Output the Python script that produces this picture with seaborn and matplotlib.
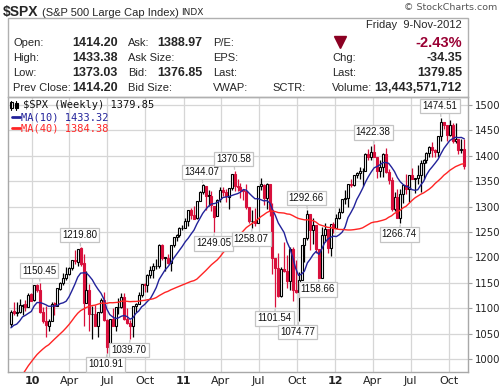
import numpy as np
import pandas as pd
import matplotlib
matplotlib.use("Agg")
import matplotlib.pyplot as plt
import matplotlib.dates as mdates
from matplotlib.patches import Rectangle
from matplotlib.lines import Line2D
import seaborn as sns

# ---------------- data (weekly $SPX, week ending Fridays) ----------------
first_week = "2009-11-13"
opens = [1069, 1094, 1091, 1092, 1105, 1108, 1102, 1127,
         1116, 1145, 1136, 1092, 1074, 1065, 1075, 1110, 1105, 1138, 1150, 1160,
         1167, 1179, 1194, 1191, 1218, 1188, 1111, 1136, 1088, 1089, 1065, 1092,
         1117, 1076, 1023, 1078, 1065, 1102, 1102, 1122, 1079, 1071, 1065, 1105,
         1109, 1125, 1148, 1146, 1165, 1176, 1183, 1183, 1225, 1199, 1199, 1189,
         1225, 1240, 1244, 1257,
         1258, 1272, 1293, 1283, 1277, 1311, 1329, 1340, 1322, 1321, 1302, 1281,
         1314, 1333, 1329, 1319, 1337, 1365, 1341, 1339, 1333, 1331, 1300, 1272,
         1271, 1268, 1340, 1343, 1316, 1345, 1293, 1199, 1179, 1124, 1177, 1174,
         1154, 1216, 1136, 1131, 1155, 1224, 1238, 1285, 1253, 1263, 1216, 1159,
         1244, 1255, 1219, 1265,
         1258, 1278, 1289, 1315, 1316, 1345, 1343, 1362, 1366, 1370, 1371, 1404,
         1397, 1408, 1398, 1370, 1378, 1403, 1369, 1353, 1295, 1318, 1278, 1325,
         1343, 1335, 1362, 1355, 1357, 1363, 1386, 1391, 1406, 1418, 1411, 1407,
         1438, 1466, 1460, 1441, 1461, 1429, 1433, 1412, 1414.20]
highs = [1097, 1113, 1112, 1119, 1108, 1117, 1129, 1130,
         1145, 1148, 1150.45, 1103, 1104, 1078, 1112, 1112, 1139, 1151, 1170, 1181,
         1182, 1194, 1214, 1217, 1219.80, 1206, 1173, 1148, 1104, 1106, 1092, 1120,
         1131, 1078, 1078, 1100, 1103, 1120, 1129, 1129, 1100, 1077, 1105, 1111,
         1131, 1148, 1150, 1167, 1184, 1189, 1196, 1227, 1227, 1200, 1207, 1225,
         1241, 1247, 1259, 1263,
         1278, 1294, 1297, 1302, 1311, 1330, 1344.07, 1341, 1332, 1330, 1302, 1314,
         1338, 1339, 1335, 1337, 1364, 1370.58, 1354, 1346, 1334, 1345, 1300, 1294,
         1298, 1341, 1356, 1344, 1347, 1345, 1307, 1199, 1208, 1182, 1230, 1204,
         1220, 1220, 1195, 1171, 1224, 1239, 1292.66, 1285, 1277, 1264, 1216, 1260,
         1267, 1255, 1266, 1270,
         1286, 1297, 1315, 1333, 1345, 1355, 1363, 1368, 1378, 1375, 1406, 1414,
         1419, 1422.38, 1398, 1392, 1406, 1415, 1373, 1359, 1328, 1334, 1335, 1344,
         1364, 1362, 1375, 1357, 1381, 1391, 1394, 1407, 1419, 1427, 1414, 1438,
         1474.51, 1467, 1460, 1470, 1465, 1464, 1434, 1434, 1433.38]
lows = [1063, 1086, 1084, 1090, 1086, 1095, 1102, 1114,
        1114, 1132, 1090, 1071, 1044, 1056, 1075, 1086, 1105, 1136, 1146, 1156,
        1165, 1176, 1186, 1183, 1184, 1065, 1111, 1056, 1040, 1064, 1043, 1090,
        1074, 1010.91, 1018, 1064, 1056, 1088, 1101, 1076, 1069, 1039.70, 1044, 1092,
        1108, 1123, 1131, 1131, 1160, 1159, 1177, 1179, 1194, 1174, 1187, 1174,
        1220, 1233, 1241, 1254,
        1257, 1262, 1275, 1276, 1276, 1311, 1325, 1294, 1302, 1291, 1249.05, 1281,
        1309, 1321, 1309, 1295, 1332, 1330, 1330, 1316, 1312, 1296, 1268, 1258.07,
        1262, 1268, 1333, 1303, 1295, 1282, 1168, 1101.54, 1122, 1122, 1171, 1140,
        1136, 1114, 1130, 1074.77, 1155, 1191, 1235, 1215, 1227, 1209, 1158.66, 1159,
        1231, 1209, 1202, 1248,
        1258, 1275, 1287, 1306, 1300, 1338, 1340, 1357, 1354, 1340, 1371, 1392,
        1391, 1397, 1357, 1358, 1359, 1367, 1344, 1292, 1292, 1278, 1266.74, 1307,
        1324, 1309, 1354, 1326, 1345, 1329, 1354, 1386, 1397, 1398, 1397, 1397,
        1429, 1452, 1430, 1439, 1425, 1425, 1403, 1405, 1373.03]
closes = [1093, 1091, 1091, 1106, 1106, 1102, 1126, 1115,
          1145, 1136, 1092, 1074, 1066, 1075, 1109, 1105, 1139, 1150, 1160, 1167,
          1179, 1194, 1192, 1217, 1187, 1111, 1136, 1088, 1089, 1065, 1092, 1117,
          1076, 1023, 1078, 1065, 1102, 1102, 1122, 1079, 1071, 1065, 1105, 1109,
          1125, 1148, 1146, 1165, 1176, 1183, 1183, 1225, 1199, 1199, 1189, 1225,
          1240, 1244, 1257, 1258,
          1272, 1293, 1283, 1276, 1311, 1329, 1343, 1320, 1321, 1304, 1279, 1313,
          1332, 1328, 1320, 1337, 1364, 1340, 1338, 1333, 1331, 1300, 1271, 1271,
          1268, 1340, 1344, 1316, 1345, 1292, 1199, 1179, 1124, 1177, 1174, 1154,
          1216, 1136, 1131, 1155, 1224, 1238, 1285, 1253, 1263, 1216, 1159, 1244,
          1255, 1219, 1265, 1258,
          1278, 1289, 1315, 1316, 1345, 1343, 1362, 1366, 1370, 1371, 1404, 1397,
          1408, 1398, 1370, 1378, 1403, 1369, 1353, 1295, 1318, 1278, 1325, 1343,
          1335, 1362, 1355, 1357, 1363, 1386, 1391, 1406, 1418, 1411, 1407, 1438,
          1466, 1460, 1441, 1461, 1429, 1433, 1412, 1414, 1379.85]
# weekly closes before the first displayed week (feed the 40-week average)
prior_closes = [827, 770, 735, 683, 756, 768, 816, 842, 856, 869, 866, 877, 929,
                882, 887, 919, 940, 946, 921, 918, 896, 879, 940, 979, 987, 1010,
                1005, 1026, 1029, 1016, 1042, 1068, 1044, 1025, 1071, 1087, 1079,
                1036, 1069]
price_ticks = [1000, 1050, 1100, 1150, 1200, 1250, 1300, 1350, 1400, 1450, 1500]
quarter_ticks = ["2010-01-01", "2010-04-01", "2010-07-01", "2010-10-01",
                 "2011-01-01", "2011-04-01", "2011-07-01", "2011-10-01",
                 "2012-01-01", "2012-04-01", "2012-07-01", "2012-10-01"]
quarter_labels = ["10", "Apr", "Jul", "Oct", "11", "Apr", "Jul", "Oct",
                  "12", "Apr", "Jul", "Oct"]
high_marks = [1150.45, 1219.80, 1344.07, 1370.58, 1292.66, 1422.38, 1474.51]
low_marks = [1010.91, 1039.70, 1249.05, 1258.07, 1101.54, 1074.77, 1158.66, 1266.74]
legend_main = "$SPX (Weekly) 1379.85"
legend_ma10 = "MA(10) 1433.32"
legend_ma40 = "MA(40) 1384.38"

# ---------------- frame ----------------
n = len(closes)
dates = pd.date_range(first_week, periods=n, freq="W-FRI")
df = pd.DataFrame({"date": dates, "open": opens, "high": highs,
                   "low": lows, "close": closes})
all_close = pd.Series(prior_closes + closes, dtype=float)
df["ma10"] = all_close.rolling(10).mean().iloc[len(prior_closes):].values
df["ma40"] = all_close.rolling(40).mean().iloc[len(prior_closes):].values
df["x"] = mdates.date2num(df["date"]) - 2.0

sns.set_style("white")
plt.rcParams["font.family"] = ["DejaVu Sans"]

W, H = 501, 391
fig = plt.figure(figsize=(W / 100, H / 100), dpi=100)
fig.patch.set_facecolor("white")

def fx(x):
    return x / W

def fy(y):
    return 1 - y / H

L, R, T, B = 8, 468, 97, 372
ax = fig.add_axes([fx(L), fy(B), fx(R) - fx(L), fy(T) - fy(B)])

RED = "#d8103c"
BLACK = "#000000"

prev = np.r_[df["close"].iloc[0], df["close"].values[:-1]]
body_w = 4.8
for i, r in df.iterrows():
    col = BLACK if r["close"] >= prev[i] else RED
    ax.vlines(r["x"], r["low"], r["high"], color=col, lw=0.9, zorder=2)
    lo, hi = min(r["open"], r["close"]), max(r["open"], r["close"])
    hollow = r["close"] > r["open"]
    ax.add_patch(Rectangle((r["x"] - body_w / 2, lo), body_w, max(hi - lo, 0.8),
                           facecolor="white" if hollow else col,
                           edgecolor=col, lw=0.8, zorder=3))

sns.lineplot(data=df, x="x", y="ma10", ax=ax, color="#22229a", lw=1.0,
             zorder=5, legend=False)
sns.lineplot(data=df, x="x", y="ma40", ax=ax, color="#ff2424", lw=1.0,
             zorder=5, legend=False)

x0 = mdates.date2num(pd.Timestamp("2009-11-04"))
x1 = mdates.date2num(pd.Timestamp("2012-11-16"))
ax.set_xlim(x0, x1)
ax.set_ylim(974.4, 1515.7)
ax.set_xlabel("")
ax.set_ylabel("")

qx = mdates.date2num(pd.to_datetime(quarter_ticks))
ax.set_xticks(qx)
ax.set_xticklabels(quarter_labels)
for lab in ax.get_xticklabels():
    lab.set_fontsize(8)
    if lab.get_text().isdigit():
        lab.set_fontweight("bold")
ax.tick_params(axis="x", length=0, pad=3, colors="#222222")
ax.yaxis.tick_right()
ax.set_yticks(price_ticks)
ax.set_yticklabels([str(v) for v in price_ticks])
ax.tick_params(axis="y", length=3, width=0.8, color="#a0a0a0", pad=2,
               labelsize=7.3, labelcolor="#222222")
ax.grid(True, color="#d6d6d6", lw=0.9)
ax.set_axisbelow(True)
for s in ax.spines.values():
    s.set_color("#a8a8a8")
    s.set_linewidth(1.0)

# annotations
def mark(val, is_high):
    idx = int(np.argmin(np.abs(df["high" if is_high else "low"].values - val)))
    xp = df["x"].iloc[idx]
    dy = 12 if is_high else -11
    ax.annotate(f"{val:.2f}", xy=(xp, val), xytext=(-1, dy),
                textcoords="offset pixels", ha="center", va="center",
                fontsize=7, family="Liberation Sans", color="#111111",
                bbox=dict(boxstyle="square,pad=0.22", fc="white", ec="#c4c4c4", lw=0.9),
                arrowprops=dict(arrowstyle="-", color="#c4c4c4", lw=0.9,
                                shrinkA=0, shrinkB=1), zorder=8)

for v in high_marks:
    mark(v, True)
for v in low_marks:
    mark(v, False)

# legend inside chart
fig.add_artist(Line2D([fx(11), fx(11)], [fy(101), fy(110)], color="black", lw=0.8))
fig.add_artist(Rectangle((fx(10), fy(108)), fx(3) - fx(0), fy(102) - fy(108),
                         transform=fig.transFigure, fc="white", ec="black", lw=0.8))
fig.add_artist(Line2D([fx(16), fx(16)], [fy(101), fy(110)], color="black", lw=0.8))
fig.add_artist(Rectangle((fx(15), fy(108)), fx(3) - fx(0), fy(103) - fy(108),
                         transform=fig.transFigure, fc="black", ec="black", lw=0.8))
fig.text(fx(23), fy(105.5), legend_main, family="DejaVu Sans Mono", fontsize=7.5,
         va="center", ha="left", color="#111111")
fig.add_artist(Line2D([fx(12), fx(20)], [fy(117), fy(117)], color="#22229a", lw=2))
fig.text(fx(21), fy(117), legend_ma10, family="DejaVu Sans Mono", fontsize=7.5,
         va="center", ha="left", color="#22229a")
fig.add_artist(Line2D([fx(12), fx(20)], [fy(128), fy(128)], color="#ff2424", lw=2))
fig.text(fx(21), fy(128), legend_ma40, family="DejaVu Sans Mono", fontsize=7.5,
         va="center", ha="left", color="#ff2424")

# ---------------- header ----------------
HF = "Liberation Sans"
fig.text(fx(3), fy(12), "$SPX", family=HF, fontsize=10, fontweight="bold",
         va="center", ha="left")
fig.text(fx(42), fy(12.5), "(S&P 500 Large Cap Index)", family=HF, fontsize=8,
         va="center", ha="left")
fig.text(fx(181), fy(12.5), "INDX", family="DejaVu Sans", fontsize=6.5,
         va="center", ha="left")
fig.text(fx(497), fy(7), "\u00a9 StockCharts.com", family="DejaVu Sans", fontsize=6.8,
         va="center", ha="right", color="#555555")

fig.add_artist(Rectangle((fx(8), fy(97)), fx(460) - fx(0), fy(18) - fy(97),
                         transform=fig.transFigure, fc="none", ec="#b0b0b0", lw=1.0))

rows = [43, 58, 73, 88]
fig.text(fx(462), fy(25), "Friday  9-Nov-2012", family=HF, fontsize=8,
         va="center", ha="right")
for y, lab in zip(rows, ["Open:", "High:", "Low:", "Prev Close:"]):
    fig.text(fx(13), fy(y), lab, family=HF, fontsize=8, va="center", ha="left")
for y, val in zip(rows, ["1414.20", "1433.38", "1373.03", "1414.20"]):
    fig.text(fx(118), fy(y), val, family=HF, fontsize=9, fontweight="bold",
             va="center", ha="right")
for y, lab in zip(rows, ["Ask:", "Ask Size:", "Bid:", "Bid Size:"]):
    fig.text(fx(128), fy(y), lab, family=HF, fontsize=8, va="center", ha="left")
fig.text(fx(202), fy(rows[0]), "1388.97", family=HF, fontsize=9, fontweight="bold",
         va="center", ha="right")
fig.text(fx(202), fy(rows[2]), "1376.85", family=HF, fontsize=9, fontweight="bold",
         va="center", ha="right")
for y, lab in zip(rows, ["P/E:", "EPS:", "Last:", "VWAP:"]):
    fig.text(fx(213), fy(y), lab, family=HF, fontsize=8, va="center", ha="left")
fig.text(fx(272), fy(rows[3]), "SCTR:", family=HF, fontsize=8, va="center", ha="left")
fig.add_artist(Line2D([fx(340)], [fy(42)], marker="v", markersize=9,
                      color="#8b0022", lw=0))
for y, lab in zip(rows[1:], ["Chg:", "Last:", "Volume:"]):
    fig.text(fx(332), fy(y), lab, family=HF, fontsize=8, va="center", ha="left")
fig.text(fx(462), fy(rows[0]), "-2.43%", family=HF, fontsize=10.5, fontweight="bold",
         va="center", ha="right", color="#990033")
for y, val in zip(rows[1:], ["-34.35", "1379.85", "13,443,571,712"]):
    fig.text(fx(462), fy(y), val, family=HF, fontsize=9, fontweight="bold",
             va="center", ha="right")

fig.savefig("out.png", dpi=100, facecolor="white")
